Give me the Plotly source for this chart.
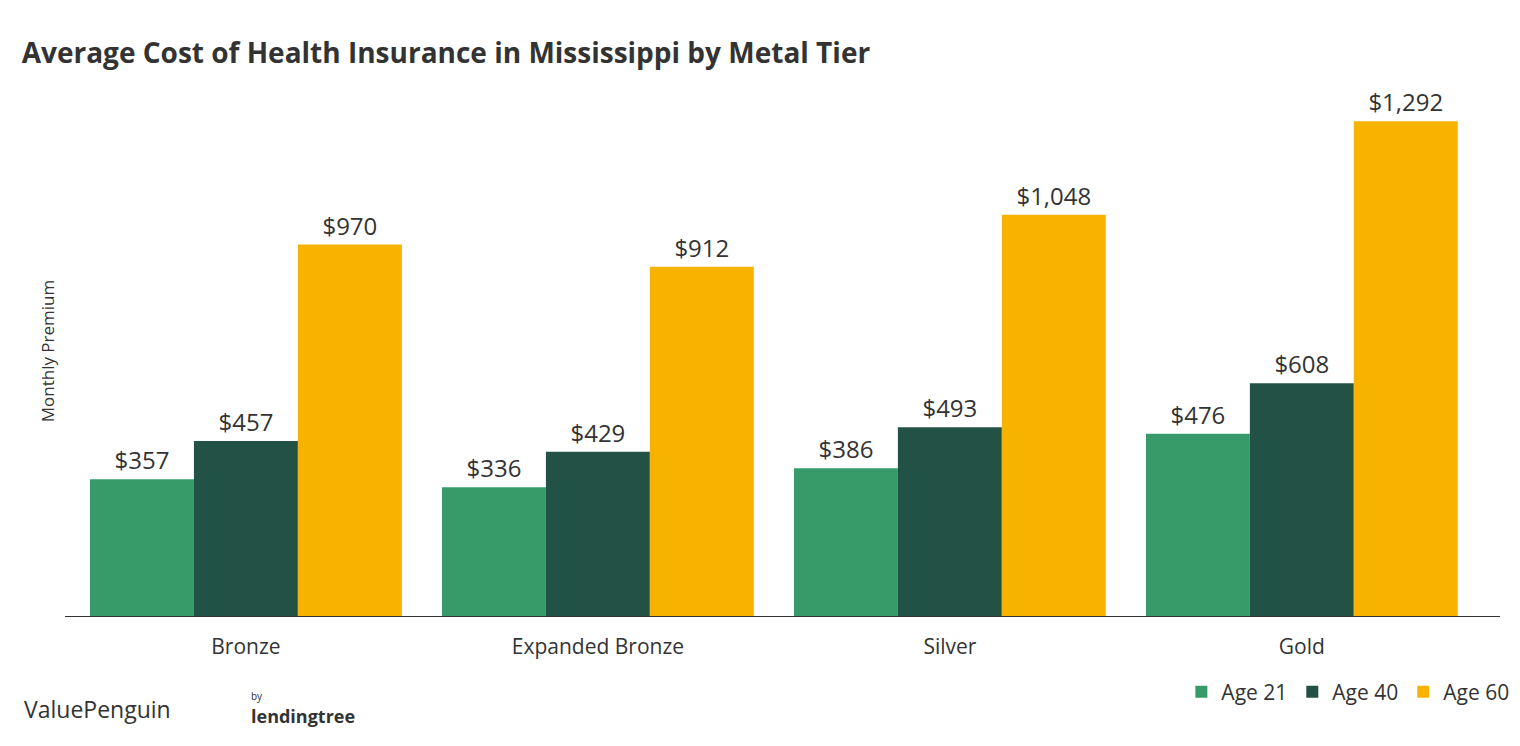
import plotly.graph_objects as go

tiers = ["Bronze", "Expanded Bronze", "Silver", "Gold"]
age21 = [357, 336, 386, 476]
age40 = [457, 429, 493, 608]
age60 = [970, 912, 1048, 1292]

series = [("Age 21", age21, "#369b69"), ("Age 40", age40, "#225245"), ("Age 60", age60, "#f8b200")]

fig = go.Figure()
for name, vals, color in series:
    fig.add_trace(go.Bar(
        x=list(range(len(tiers))), y=vals, name=name, marker_color=color,
        marker_line_width=0,
        text=[f"${v:,}" for v in vals], textposition="outside",
        textfont=dict(size=24, color="#333"), cliponaxis=False,
    ))

fig.update_layout(
    width=1520, height=746,
    plot_bgcolor="white", paper_bgcolor="white",
    font=dict(family="Open Sans, sans-serif", color="#333"),
    title=dict(text="<b>Average Cost of Health Insurance in Mississippi by Metal Tier</b>",
               x=0.009, y=0.953, xanchor="left", font=dict(size=28, color="#333")),
    barmode="group", bargap=0.114, bargroupgap=0,
    margin=dict(l=57, r=28, t=78, b=138),
    xaxis=dict(tickvals=list(range(len(tiers))), ticktext=tiers, range=[-0.514, 3.563],
               showline=True, linecolor="#333", linewidth=1, tickfont=dict(size=21, color="#333"),
               ticks="outside", ticklen=12, tickcolor="white", showgrid=False),
    yaxis=dict(range=[0, 1384], showticklabels=False, showgrid=False, zeroline=False,
               title=dict(text="Monthly Premium", font=dict(size=17, color="#333"), standoff=5)),
    legend=dict(orientation="h", x=1.01, xanchor="right", y=-0.105, yanchor="top",
                font=dict(size=21, color="#333"), itemwidth=30),
)
fig.add_annotation(text="ValuePenguin", xref="paper", yref="paper", x=-0.03, y=-0.175,
                   xanchor="left", yanchor="middle", showarrow=False,
                   font=dict(size=23, color="#333"))
fig.add_annotation(text="<span style='font-size:10px'>by</span><br><b>lendingtree</b>", xref="paper",
                   yref="paper", x=0.128, y=-0.175, xanchor="left", yanchor="middle", showarrow=False,
                   align="left", font=dict(size=18, color="#333"))
fig.write_html("out.html")
